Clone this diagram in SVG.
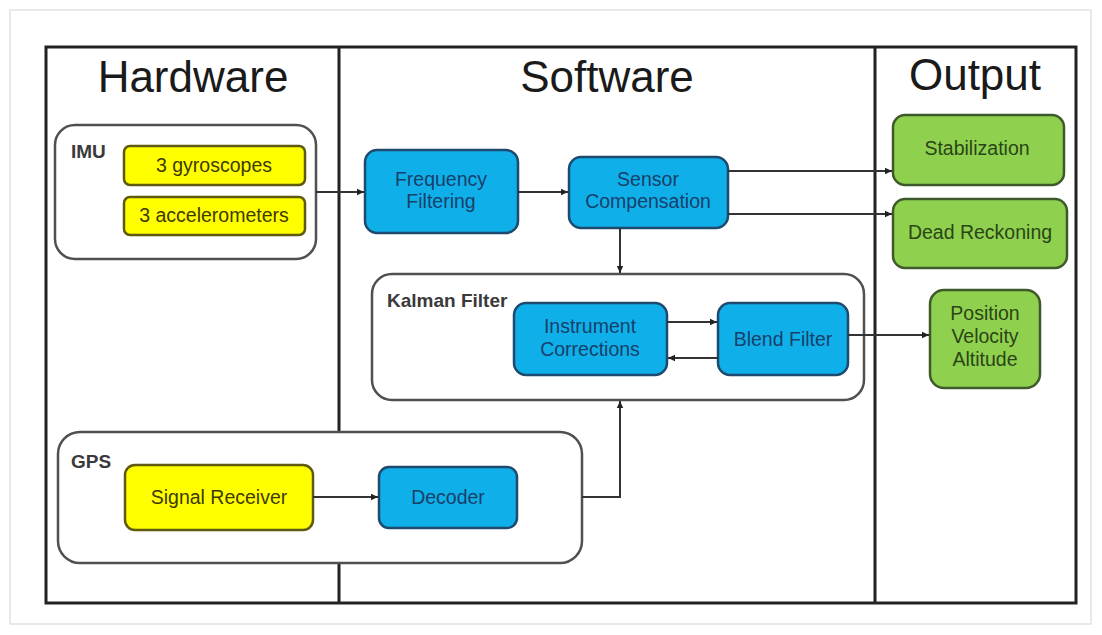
<svg xmlns="http://www.w3.org/2000/svg" width="1102" height="635" viewBox="0 0 1102 635">
<defs>
<marker id="ah" markerWidth="8" markerHeight="8" refX="7" refY="4" orient="auto" markerUnits="userSpaceOnUse">
<path d="M0,0.8 L7,4 L0,7.2 Z" fill="#222"/>
</marker>
<style>
.hdr{font-family:"Liberation Sans",Arial,sans-serif;font-size:44px;fill:#1a1a1a;text-anchor:middle}
.grp{fill:#fff;stroke:#505050;stroke-width:2.5}
.glbl{font-family:"Liberation Sans",Arial,sans-serif;font-size:19px;font-weight:bold;fill:#3a3a3a}
.yel{fill:#ffff00;stroke:#5e5a10;stroke-width:2.5}
.blu{fill:#0fb0ea;stroke:#1d4a6e;stroke-width:2.5}
.grn{fill:#8fd14f;stroke:#3f5a2a;stroke-width:2.5}
.t{font-family:"Liberation Sans",Arial,sans-serif;font-size:19.5px;text-anchor:middle}
.ty{fill:#3e3a00}
.tb{fill:#17406a}
.tg{fill:#2a4516}
.con{fill:none;stroke:#333;stroke-width:2}
</style>
</defs>
<rect x="0" y="0" width="1102" height="635" fill="#fff"/>
<rect x="10" y="10" width="1081" height="614" fill="none" stroke="#e2e2e2" stroke-width="1.5"/>
<g id="frame">
<rect x="46" y="47" width="1030" height="556" fill="none" stroke="#222" stroke-width="3"/>
<line x1="339" y1="47" x2="339" y2="603" stroke="#222" stroke-width="3"/>
<line x1="875" y1="47" x2="875" y2="603" stroke="#222" stroke-width="3"/>
<text class="hdr" x="193" y="92">Hardware</text>
<text class="hdr" x="607" y="92">Software</text>
<text class="hdr" x="975" y="90">Output</text>
</g>
<g id="imu">
<rect class="grp" x="55" y="125" width="261" height="134" rx="20"/>
<text class="glbl" x="71" y="158">IMU</text>
</g>
<g id="gyroscopes">
<rect class="yel" x="124" y="146" width="181" height="39" rx="6"/>
<text class="t ty" x="214" y="172">3 gyroscopes</text>
</g>
<g id="accelerometers">
<rect class="yel" x="124" y="197" width="181" height="38" rx="6"/>
<text class="t ty" x="214" y="222">3 accelerometers</text>
</g>
<g id="kalman">
<rect class="grp" x="372" y="274" width="492" height="126" rx="20"/>
<text class="glbl" x="387" y="307">Kalman Filter</text>
</g>
<g id="gps">
<rect class="grp" x="58" y="432" width="524" height="131" rx="22"/>
<text class="glbl" x="71" y="468">GPS</text>
</g>
<g id="frequency-filtering">
<rect class="blu" x="365" y="150" width="153" height="83" rx="12"/>
<text class="t tb" x="441" y="186">Frequency</text>
<text class="t tb" x="441" y="208">Filtering</text>
</g>
<g id="sensor-compensation">
<rect class="blu" x="569" y="157" width="159" height="71" rx="12"/>
<text class="t tb" x="648" y="186">Sensor</text>
<text class="t tb" x="648" y="208">Compensation</text>
</g>
<g id="instrument-corrections">
<rect class="blu" x="514" y="303" width="153" height="72" rx="12"/>
<text class="t tb" x="590" y="333">Instrument</text>
<text class="t tb" x="590" y="356">Corrections</text>
</g>
<g id="blend-filter">
<rect class="blu" x="718" y="303" width="130" height="72" rx="12"/>
<text class="t tb" x="783" y="346">Blend Filter</text>
</g>
<g id="signal-receiver">
<rect class="yel" x="125" y="465" width="188" height="65" rx="10"/>
<text class="t ty" x="219" y="504">Signal Receiver</text>
</g>
<g id="decoder">
<rect class="blu" x="379" y="467" width="138" height="61" rx="10"/>
<text class="t tb" x="448" y="504">Decoder</text>
</g>
<g id="stabilization">
<rect class="grn" x="893" y="115" width="171" height="70" rx="12"/>
<text class="t tg" x="977" y="155">Stabilization</text>
</g>
<g id="dead-reckoning">
<rect class="grn" x="893" y="199" width="174" height="69" rx="12"/>
<text class="t tg" x="980" y="239">Dead Reckoning</text>
</g>
<g id="pva">
<rect class="grn" x="930" y="290" width="110" height="98" rx="14"/>
<text class="t tg" x="985" y="320">Position</text>
<text class="t tg" x="985" y="343">Velocity</text>
<text class="t tg" x="985" y="366">Altitude</text>
</g>
<g id="connectors">
<line class="con" x1="316" y1="192" x2="364" y2="192" marker-end="url(#ah)"/>
<line class="con" x1="518" y1="192" x2="568" y2="192" marker-end="url(#ah)"/>
<line class="con" x1="620" y1="228" x2="620" y2="273" marker-end="url(#ah)"/>
<line class="con" x1="728" y1="171" x2="892" y2="171" marker-end="url(#ah)"/>
<line class="con" x1="728" y1="214" x2="892" y2="214" marker-end="url(#ah)"/>
<line class="con" x1="667" y1="322" x2="717" y2="322" marker-end="url(#ah)"/>
<line class="con" x1="718" y1="358" x2="668" y2="358" marker-end="url(#ah)"/>
<line class="con" x1="848" y1="335" x2="929" y2="335" marker-end="url(#ah)"/>
<line class="con" x1="313" y1="497" x2="378" y2="497" marker-end="url(#ah)"/>
<polyline class="con" points="582,497 620,497 620,401" marker-end="url(#ah)"/>
</g>
</svg>
